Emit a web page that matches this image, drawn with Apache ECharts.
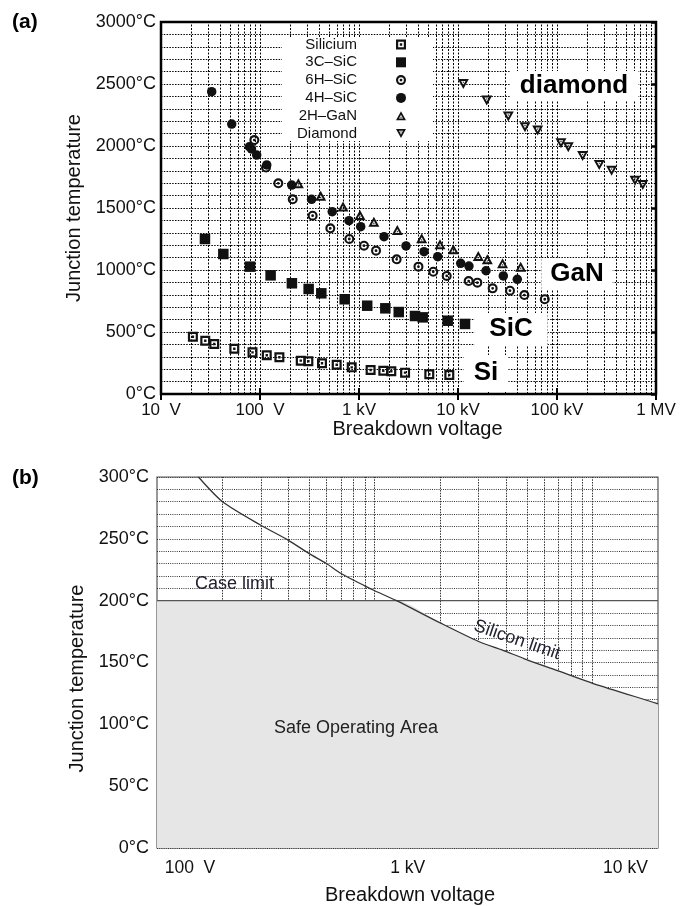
<!DOCTYPE html>
<html>
<head>
<meta charset="utf-8">
<script src="https://cdn.jsdelivr.net/npm/echarts@6/dist/echarts.min.js"></script>
<style>
  html, body { margin: 0; padding: 0; background: #fff; }
  #chart { width: 681px; height: 906px; }
</style>
</head>
<body>
<div id="chart"></div>
<script>
// ---------- Panel (a): junction temperature limit vs. breakdown voltage ----------
const siliciumV = [21, 28, 34.5, 55, 84, 117, 157, 258, 308, 423, 595, 844, 1310, 1760, 2120, 2920, 5130, 8170];
const siliciumT = [462, 430, 403, 365, 336, 312, 296, 269, 264, 248, 236, 215, 194, 188, 183, 172, 159, 153];

const sic3cV = [27.8, 42.6, 79.3, 128, 210, 310, 416, 717, 1210, 1845, 2520, 3680, 4400, 7870, 11770];
const sic3cT = [1250, 1129, 1027, 957, 893, 847, 812, 764, 712, 691, 661, 629, 618, 591, 565];

const sic6hV = [87.7, 115, 153, 214, 340, 513, 798, 1123, 1486, 2400, 3985, 5625, 7690, 12820, 15680, 22380, 33500, 46800, 75200];
const sic6hT = [2048, 1826, 1699, 1570, 1438, 1336, 1250, 1196, 1156, 1086, 1027, 986, 952, 911, 898, 852, 833, 798, 764];

const sic4hV = [32.5, 51.8, 78, 82, 92.6, 117, 209, 332, 537, 792, 1040, 1790, 2985, 4540, 6240, 10650, 12900, 19190, 28700, 39720];
const sic4hT = [2438, 2177, 1994, 1976, 1927, 1847, 1685, 1570, 1470, 1398, 1349, 1269, 1194, 1148, 1107, 1054, 1032, 994, 952, 925];

const ganV = [244, 410, 690, 1023, 1413, 2437, 4295, 6580, 8970, 16030, 19780, 28180, 42980];
const ganT = [1699, 1599, 1513, 1444, 1390, 1323, 1256, 1207, 1167, 1113, 1086, 1054, 1027];

const diamondV = [11320, 19500, 32200, 47500, 63800, 109700, 130000, 181500, 267000, 356000, 614000, 735000];
const diamondT = [2500, 2366, 2237, 2151, 2124, 2022, 1989, 1919, 1847, 1801, 1720, 1685];

const seriesNamesA = ['Silicium', '3C\u2013SiC', '6H\u2013SiC', '4H\u2013SiC', '2H\u2013GaN', 'Diamond'];
const xTickLabelsA = ['10  V', '100  V', '1 kV', '10 kV', '100 kV', '1 MV'];
const materialLabels = ['diamond', 'GaN', 'SiC', 'Si'];

// ---------- Panel (b): silicon safe operating area ----------
const siliconLimitV = [155, 200, 300, 400, 500, 600, 700, 900, 1000, 1260, 2000, 3000, 3865, 4875, 7015, 10100, 19700, 20000];
const siliconLimitT = [300, 280, 261, 249, 238, 230, 222, 212, 208, 200, 182, 167, 160, 153, 143, 133, 117, 116.5];
const caseLimitT = 200;
const xTickLabelsB = ['100  V', '1 kV', '10 kV'];

// axis ranges
const xRangeA = [10, 1e6];
const xRangeB = [100, 20000];

const FONT = "'Liberation Sans', Arial, Helvetica, sans-serif";
const INK = '#111';

const zip = (xs, ys) => xs.map((x, i) => [x, ys[i]]);

// log-decade gridline positions (2..9 x 10^k and the decade lines inside the range)
function logGridValues(min, max) {
  const out = [];
  for (let d = min; d < max; d *= 10) {
    for (let m = 1; m <= 9; m++) {
      const v = d * m;
      if (v > min && v < max) out.push(v);
    }
  }
  return out;
}

function decadeLabel(labels, firstExp) {
  return function (v) {
    const lg = Math.log10(v);
    const e = Math.round(lg);
    if (Math.abs(lg - e) > 1e-6) return '';
    return labels[e - firstExp] || '';
  };
}

// marker glyphs (nonzero fill: hole sub-paths wound the other way)
const SYM_SQUARE_DOT = 'path://M0,0H10V10H0Z M2.2,2.2V7.8H7.8V2.2Z M3.8,3.8H6.2V6.2H3.8Z';
const SYM_RING_DOT = 'path://M5,0A5,5,0,1,1,4.99,0Z M5,2.1A2.9,2.9,0,1,0,5.01,2.1Z M5,3.6A1.4,1.4,0,1,1,4.99,3.6Z';
const SYM_TRI_UP = 'path://M5,0L10,9H0Z M5,3.6L3,7.2H7Z M5,5.1L5.8,6.5H4.2Z';
const SYM_TRI_DOWN = 'path://M0,0H10L5,9Z M3,1.8L5,5.4L7,1.8Z M4.2,2.5H5.8L5,3.9Z';

function scatterA(name, xs, ys, symbol, size) {
  return {
    name: name, type: 'scatter', xAxisIndex: 0, yAxisIndex: 0,
    data: zip(xs, ys), symbol: symbol, symbolSize: size,
    itemStyle: { color: INK, opacity: 1 }, z: 3
  };
}

const soaData = [[xRangeB[0], caseLimitT]].concat(
  zip(siliconLimitV, siliconLimitT).filter(p => p[1] <= caseLimitT)
);

const chart = echarts.init(document.getElementById('chart'), null, { renderer: 'canvas' });

const option = {
  animation: false,
  backgroundColor: '#fff',
  textStyle: { fontFamily: FONT },
  grid: [
    { left: 161, right: 25, top: 22, bottom: 512, show: true, borderColor: '#000', borderWidth: 2.5 },
    { left: 157, right: 23, top: 477, bottom: 56, show: true, borderColor: '#555', borderWidth: 1.2 }
  ],
  xAxis: [
    {
      type: 'log', gridIndex: 0, min: xRangeA[0], max: xRangeA[1],
      axisLine: { show: false },
      axisTick: { show: true, inside: true, length: 6, lineStyle: { color: '#000', width: 2 } },
      axisLabel: { formatter: decadeLabel(xTickLabelsA, 1), fontSize: 17, color: INK, margin: 8, fontFamily: FONT },
      splitLine: { show: false },
      name: 'Breakdown voltage', nameLocation: 'middle', nameGap: 24,
      nameTextStyle: { fontSize: 20, color: INK, fontFamily: FONT, padding: [0, 0, 0, 18] }
    },
    {
      type: 'log', gridIndex: 0, position: 'top', min: xRangeA[0], max: xRangeA[1],
      axisLine: { show: false },
      axisTick: { show: true, inside: true, length: 6, lineStyle: { color: '#000', width: 2 } },
      axisLabel: { show: false }, splitLine: { show: false }
    },
    {
      type: 'log', gridIndex: 1, min: xRangeB[0], max: xRangeB[1],
      axisLine: { show: false }, axisTick: { show: false },
      axisLabel: { formatter: decadeLabel(xTickLabelsB, 2), fontSize: 17.5, color: INK, margin: 11,
                   fontFamily: FONT, padding: [0, 0, 0, 66] },
      splitLine: { show: false },
      name: 'Breakdown voltage', nameLocation: 'middle', nameGap: 37,
      nameTextStyle: { fontSize: 20, color: INK, fontFamily: FONT, padding: [0, 0, 0, 5] }
    }
  ],
  yAxis: [
    {
      type: 'value', gridIndex: 0, min: 0, max: 3000, interval: 100,
      axisLine: { show: false }, axisTick: { show: false },
      axisLabel: { formatter: v => (v % 500 === 0 ? v + '°C' : ''), fontSize: 18, color: INK, margin: 5, fontFamily: FONT },
      splitLine: { show: true, lineStyle: { type: [1.5, 1.3], color: '#000', width: 1 } },
      name: 'Junction temperature', nameLocation: 'middle', nameGap: 63,
      nameTextStyle: { fontSize: 20, color: INK, fontFamily: FONT }
    },
    {
      type: 'value', gridIndex: 0, min: 0, max: 3000, interval: 500,
      axisLine: { show: false }, axisLabel: { show: false }, splitLine: { show: false },
      axisTick: { show: true, inside: true, length: 5, lineStyle: { color: '#000', width: 2.5 } }
    },
    {
      type: 'value', gridIndex: 0, position: 'right', min: 0, max: 3000, interval: 500,
      axisLine: { show: false }, axisLabel: { show: false }, splitLine: { show: false },
      axisTick: { show: true, inside: true, length: 5, lineStyle: { color: '#000', width: 2.5 } }
    },
    {
      type: 'value', gridIndex: 1, min: 0, max: 300, interval: 10,
      axisLine: { show: false }, axisTick: { show: false },
      axisLabel: { formatter: v => (v % 50 === 0 ? v + '°C' : ''), fontSize: 18, color: INK, margin: 8, fontFamily: FONT },
      splitLine: { show: true, lineStyle: { type: [1, 1.2], color: '#333', width: 1 } },
      name: 'Junction temperature', nameLocation: 'middle', nameGap: 67,
      nameTextStyle: { fontSize: 20, color: INK, fontFamily: FONT, padding: [0, 32, 0, 0] }
    }
  ],
  legend: {
    data: seriesNamesA, orient: 'vertical', left: 282, top: 37, align: 'right',
    itemWidth: 10, itemHeight: 10, itemGap: 2.8, padding: [0, 27, 0, 0],
    backgroundColor: '#fff', selectedMode: false, z: 6,
    textStyle: { fontSize: 15, color: INK, fontFamily: FONT, width: 75, lineHeight: 15, padding: [0, 34, 0, 0] }
  },
  series: [
    // vertical log gridlines, panel (a)
    {
      name: 'gridA', type: 'line', xAxisIndex: 0, yAxisIndex: 0, data: [], silent: true,
      markLine: {
        silent: true, symbol: ['none', 'none'], z: 1, animation: false,
        label: { show: false },
        lineStyle: { type: [2, 1.5], color: '#000', width: 1 },
        data: logGridValues(xRangeA[0], xRangeA[1]).map(v => ({ xAxis: v }))
      }
    },
    scatterA(seriesNamesA[0], siliciumV, siliciumT, SYM_SQUARE_DOT, 10),
    scatterA(seriesNamesA[1], sic3cV, sic3cT, 'rect', 10.5),
    scatterA(seriesNamesA[2], sic6hV, sic6hT, SYM_RING_DOT, 10),
    scatterA(seriesNamesA[3], sic4hV, sic4hT, 'circle', 9.5),
    scatterA(seriesNamesA[4], ganV, ganT, SYM_TRI_UP, [11, 10]),
    scatterA(seriesNamesA[5], diamondV, diamondT, SYM_TRI_DOWN, [11, 10]),

    // vertical log gridlines, panel (b)
    {
      name: 'gridB', type: 'line', xAxisIndex: 2, yAxisIndex: 3, data: [], silent: true,
      markLine: {
        silent: true, symbol: ['none', 'none'], z: 1, animation: false,
        label: { show: false },
        lineStyle: { type: [1.5, 1.2], color: '#333', width: 1 },
        data: logGridValues(xRangeB[0], xRangeB[1]).map(v => ({ xAxis: v }))
      }
    },
    {
      name: 'Safe Operating Area', type: 'line', xAxisIndex: 2, yAxisIndex: 3,
      data: soaData, symbol: 'none', smooth: 0.25, silent: true,
      lineStyle: { width: 0 }, areaStyle: { color: '#e6e6e6', opacity: 1 }, z: 2
    },
    {
      name: 'Case limit', type: 'line', xAxisIndex: 2, yAxisIndex: 3,
      data: [[xRangeB[0], caseLimitT], [xRangeB[1], caseLimitT]], symbol: 'none', silent: true,
      lineStyle: { color: '#555', width: 1.3 }, z: 3
    },
    {
      name: 'Silicon limit', type: 'line', xAxisIndex: 2, yAxisIndex: 3,
      data: zip(siliconLimitV, siliconLimitT), symbol: 'none', smooth: 0.25, silent: true,
      lineStyle: { color: '#333', width: 1.3 }, z: 3
    }
  ],
  graphic: [
    { type: 'text', x: 12, y: 22, z: 10, style: { text: '(a)', font: 'bold 21px ' + FONT, fill: '#000', align: 'left', verticalAlign: 'middle' } },
    { type: 'text', x: 12, y: 478, z: 10, style: { text: '(b)', font: 'bold 21px ' + FONT, fill: '#000', align: 'left', verticalAlign: 'middle' } },

    { type: 'text', x: 574, y: 86, z: 10, style: { text: materialLabels[0], font: 'bold 26px ' + FONT, fill: '#000', align: 'center', verticalAlign: 'middle', backgroundColor: '#fff', padding: [2, 10, 2, 10] } },
    { type: 'text', x: 577, y: 274, z: 10, style: { text: materialLabels[1], font: 'bold 26px ' + FONT, fill: '#000', align: 'center', verticalAlign: 'middle', backgroundColor: '#fff', padding: [3, 9, 3, 9] } },
    { type: 'text', x: 511, y: 329, z: 10, style: { text: materialLabels[2], font: 'bold 26px ' + FONT, fill: '#000', align: 'center', verticalAlign: 'middle', backgroundColor: '#fff', padding: [3, 15, 3, 15] } },
    { type: 'text', x: 486, y: 373, z: 10, style: { text: materialLabels[3], font: 'bold 26px ' + FONT, fill: '#000', align: 'center', verticalAlign: 'middle', backgroundColor: '#fff', padding: [5, 10, 5, 10] } },

    { type: 'text', x: 195, y: 584, z: 10, style: { text: 'Case limit', font: '18px ' + FONT, fill: '#223', align: 'left', verticalAlign: 'middle' } },
    { type: 'text', x: 356, y: 728, z: 10, style: { text: 'Safe Operating Area', font: '18px ' + FONT, fill: '#222', align: 'center', verticalAlign: 'middle' } },
    { type: 'text', x: 517, y: 640, rotation: -0.33, z: 10, style: { text: 'Silicon limit', font: '18px ' + FONT, fill: '#223', align: 'center', verticalAlign: 'middle' } }
  ]
};

chart.setOption(option);
</script>
</body>
</html>
